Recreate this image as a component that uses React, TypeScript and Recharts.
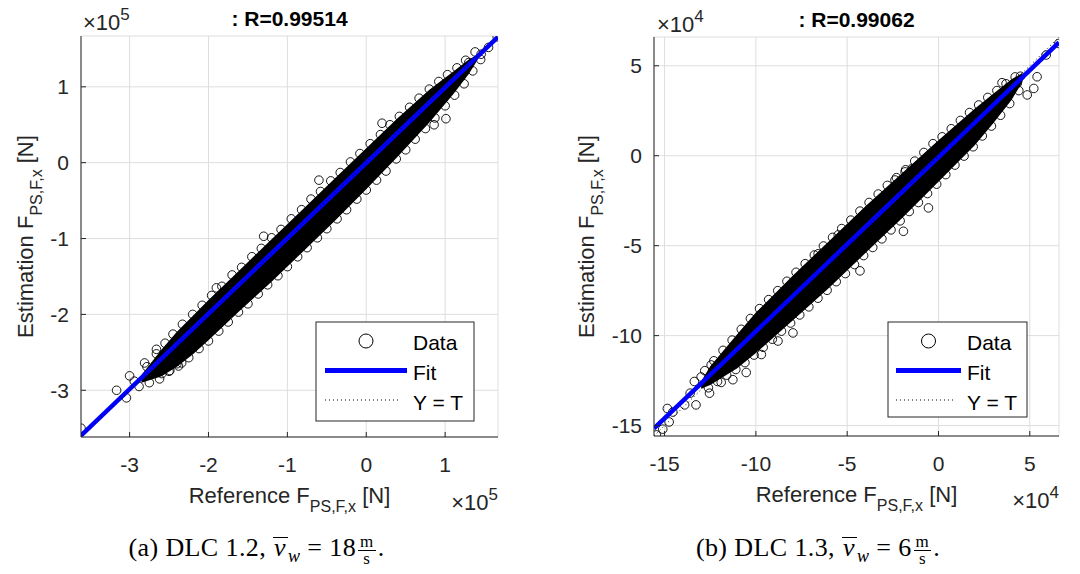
import React from "react";
import { Area, CartesianGrid, ComposedChart, Line, Scatter, XAxis, YAxis } from "recharts";

// ---- panel (a) DLC 1.2, values in 1e5 N ----
const domainA: [number, number] = [-3.616, 1.67];
const ticksA = [-3, -2, -1, 0, 1];
const bandXA = [-2.85, -2.6, -2.4, -2.2, -2.0, -1.6, -1.2, -0.8, -0.4, 0, 0.4, 0.8, 1.1, 1.3, 1.42];
const bandLoA = [-2.9, -2.82, -2.69, -2.53, -2.34, -1.95, -1.57, -1.17, -0.77, -0.35, 0.08, 0.53, 0.9, 1.17, 1.37];
const bandHiA = [-2.8, -2.47, -2.23, -2.02, -1.81, -1.41, -1.01, -0.61, -0.21, 0.19, 0.59, 0.96, 1.2, 1.36, 1.43];
const upperXA = [-2.78, -2.66, -2.55, -2.45, -2.33, -2.2, -2.08, -1.96, -1.83, -1.7, -1.58, -1.45, -1.33, -1.2, -1.08, -0.95, -0.82, -0.7, -0.58, -0.45, -0.33, -0.2, -0.08, 0.05, 0.18, 0.3, 0.42, 0.55, 0.67, 0.8, 0.92, 1.03, 1.15, 1.26, 1.38];
const upperYA = [-2.69, -2.52, -2.38, -2.26, -2.13, -2.0, -1.88, -1.75, -1.63, -1.48, -1.38, -1.24, -1.13, -0.99, -0.88, -0.74, -0.62, -0.48, -0.38, -0.24, -0.13, 0.01, 0.12, 0.25, 0.37, 0.5, 0.61, 0.73, 0.85, 0.97, 1.07, 1.16, 1.25, 1.35, 1.46];
const lowerXA = [-2.75, -2.62, -2.5, -2.38, -2.25, -2.12, -2.0, -1.87, -1.75, -1.62, -1.5, -1.37, -1.25, -1.12, -1.0, -0.87, -0.75, -0.62, -0.5, -0.37, -0.25, -0.12, 0.0, 0.13, 0.25, 0.38, 0.5, 0.62, 0.75, 0.87, 1.0, 1.12, 1.24, 1.35, 1.45];
const lowerYA = [-2.9, -2.85, -2.75, -2.68, -2.57, -2.45, -2.35, -2.22, -2.1, -1.97, -1.86, -1.73, -1.61, -1.49, -1.37, -1.24, -1.12, -0.99, -0.87, -0.74, -0.62, -0.48, -0.36, -0.23, -0.11, 0.05, 0.17, 0.31, 0.45, 0.59, 0.75, 0.89, 1.04, 1.21, 1.36];
const outXA = [-3.616, -3.165, -3.04, -3.0, -2.94, -2.88, -2.81, -2.66, -2.59, -2.49, -2.4, -2.34, -1.9, -1.3, -0.6, 0.2, 1.01, 0.86, 1.3, 1.456, 1.55, 1.66];
const outYA = [-3.5, -3.0, -3.1, -2.81, -2.88, -2.95, -2.64, -2.46, -2.78, -2.74, -2.65, -2.64, -1.65, -0.97, -0.23, 0.52, 0.58, 0.5, 1.32, 1.43, 1.52, 1.66];
const fitXA = [-3.616, 1.67];
const fitYA = [-3.597, 1.658];

// ---- panel (b) DLC 1.3, values in 1e4 N ----
const domainB: [number, number] = [-15.58, 6.6];
const ticksB = [-15, -10, -5, 0, 5];
const bandXB = [-13.0, -12.5, -11.0, -10.0, -8.0, -6.0, -4.0, -2.0, 0, 2, 3, 4, 4.6];
const bandLoB = [-12.95, -12.75, -11.8, -10.97, -9.18, -7.35, -5.41, -3.48, -1.44, 0.6, 1.8, 3.1, 4.1];
const bandHiB = [-12.55, -11.7, -9.9, -8.72, -6.68, -4.75, -2.81, -0.98, 0.86, 2.62, 3.45, 4.25, 4.6];
const upperXB = [-12.8, -12.3, -11.8, -11.3, -10.8, -10.3, -9.8, -9.3, -8.8, -8.3, -7.8, -7.3, -6.8, -6.3, -5.8, -5.3, -4.8, -4.3, -3.8, -3.3, -2.8, -2.3, -1.8, -1.3, -0.8, -0.3, 0.2, 0.7, 1.2, 1.7, 2.2, 2.7, 3.2, 3.7, 4.2];
const upperYB = [-11.95, -11.4, -10.82, -10.25, -9.65, -9.05, -8.5, -8.0, -7.5, -6.98, -6.48, -6.0, -5.52, -5.02, -4.54, -4.05, -3.58, -3.08, -2.6, -2.13, -1.65, -1.22, -0.78, -0.3, 0.18, 0.67, 1.05, 1.5, 1.96, 2.4, 2.82, 3.24, 3.62, 4.0, 4.38];
const lowerXB = [-12.6, -12.1, -11.6, -11.1, -10.6, -10.1, -9.6, -9.1, -8.6, -8.1, -7.6, -7.1, -6.6, -6.1, -5.6, -5.1, -4.6, -4.1, -3.6, -3.1, -2.6, -2.1, -1.6, -1.1, -0.6, -0.1, 0.4, 0.9, 1.4, 1.9, 2.4, 2.9, 3.4, 3.9, 4.4];
const lowerYB = [-12.9, -12.55, -12.2, -11.88, -11.5, -11.08, -10.65, -10.2, -9.75, -9.3, -8.85, -8.4, -7.92, -7.48, -7.0, -6.55, -6.05, -5.55, -5.1, -4.62, -4.12, -3.62, -3.1, -2.6, -2.1, -1.58, -1.05, -0.52, -0.02, 0.5, 1.1, 1.65, 2.25, 2.9, 3.62];
const outXB = [-15.45, -15.1, -14.85, -14.75, -14.55, -13.9, -13.6, -13.37, -13.28, -13.0, -12.45, -12.54, -11.9, -11.26, -10.53, -9.7, -8.79, -7.97, -6.59, -5.49, -4.3, -2.38, -1.83, -1.46, -1.92, -0.55, 3.48, 3.66, 3.94, 4.31, 4.49, 4.86, 5.22, 5.4, 5.9, 6.59];
const outYB = [-15.52, -15.2, -14.05, -14.8, -14.25, -13.85, -13.2, -12.55, -13.85, -12.3, -11.63, -13.2, -12.6, -12.45, -12.05, -11.05, -10.3, -9.85, -5.45, -4.4, -6.4, -1.35, -0.9, -0.72, -4.2, -2.9, 4.06, 3.47, 3.65, 4.02, 4.42, 3.38, 3.74, 4.39, 5.6, 6.24];
const fitXB = [-15.58, 6.6];
const fitYB = [-15.16, 6.3];

const AX = "#262626";
const SANS = "'Liberation Sans', Arial, Helvetica, sans-serif";
const SERIF = "'Liberation Serif', 'Times New Roman', serif";

const zip = (xs: number[], ys: number[]) => xs.map((x, i) => ({ x, y: ys[i] }));

function Ring(props: any) {
  const { cx, cy } = props;
  if (cx == null || cy == null) return <g />;
  return <circle cx={cx} cy={cy} r={4.3} fill="none" stroke="#000" strokeWidth={0.9} />;
}

type PanelProps = {
  left: number;
  top: number;
  right: number;
  bottom: number;
  yWidth: number;
  domain: [number, number];
  ticks: number[];
  bandX: number[];
  bandLo: number[];
  bandHi: number[];
  points: { x: number; y: number }[];
  fit: { x: number; y: number }[];
};

function Panel(p: PanelProps) {
  const band = p.bandX.map((x, i) => ({ x, band: [p.bandLo[i], p.bandHi[i]] }));
  const ident = [
    { x: p.domain[0], y: p.domain[0] },
    { x: p.domain[1], y: p.domain[1] },
  ];
  const tickStyle = { fill: AX, fontSize: 21, fontFamily: SANS };
  return (
    <div style={{ position: "absolute", left: p.left, top: 0, width: 540, height: 480 }}>
      <ComposedChart width={540} height={480} margin={{ top: p.top, right: p.right, bottom: 0, left: 0 }}>
        <CartesianGrid xAxisId="b" yAxisId="l" stroke="#dedede" strokeWidth={1} />
        <XAxis xAxisId="b" type="number" dataKey="x" domain={p.domain} ticks={p.ticks} allowDataOverflow
          height={p.bottom} tickSize={-5} tickMargin={25} stroke={AX} tick={tickStyle} />
        <XAxis xAxisId="t" orientation="top" type="number" dataKey="x" domain={p.domain} ticks={p.ticks}
          allowDataOverflow height={0} tickSize={-5} tick={false} stroke={AX} />
        <YAxis yAxisId="l" type="number" domain={p.domain} ticks={p.ticks} allowDataOverflow
          width={p.yWidth} tickSize={-5} tickMargin={17} stroke={AX} tick={tickStyle} />
        <YAxis yAxisId="r" orientation="right" type="number" domain={p.domain} ticks={p.ticks}
          allowDataOverflow width={0} tickSize={-5} tick={false} stroke={AX} />
        <Area xAxisId="b" yAxisId="l" data={band} dataKey="band" type="linear" stroke="none"
          fill="#000" fillOpacity={1} isAnimationActive={false} zIndex={100} />
        <Scatter xAxisId="b" yAxisId="l" data={p.points} dataKey="y" shape={(s: any) => <Ring {...s} />}
          isAnimationActive={false} zIndex={200} />
        <Line xAxisId="b" yAxisId="l" data={p.fit} dataKey="y" type="linear" stroke="#0000ff"
          strokeWidth={4.5} dot={false} activeDot={false} isAnimationActive={false} zIndex={300} />
        <Line xAxisId="b" yAxisId="l" data={ident} dataKey="y" type="linear" stroke="#000"
          strokeWidth={1} strokeDasharray="1 3" dot={false} activeDot={false} isAnimationActive={false} zIndex={310} />
      </ComposedChart>
    </div>
  );
}

function Legend({ x, y, w, h, iconX0, iconX1, textX }: any) {
  const cx = (iconX0 + iconX1) / 2;
  return (
    <g>
      <rect x={x} y={y} width={w} height={h} fill="#fff" stroke={AX} strokeWidth={1} />
      <circle cx={cx} cy={y + 19} r={7} fill="none" stroke="#000" strokeWidth={1} />
      <text x={textX} y={y + 27.5} fontSize={21} fill="#000">Data</text>
      <line x1={iconX0} x2={iconX1} y1={y + 48.5} y2={y + 48.5} stroke="#0000ff" strokeWidth={5} />
      <text x={textX} y={y + 58} fontSize={21} fill="#000">Fit</text>
      <line x1={iconX0} x2={iconX1 - 6} y1={y + 78} y2={y + 78} stroke="#000" strokeWidth={1} strokeDasharray="1 3" />
      <text x={textX} y={y + 87.5} fontSize={21} fill="#000">Y = T</text>
    </g>
  );
}

function Caption({ center, tag, dlc, speed }: { center: number; tag: string; dlc: string; speed: string }) {
  return (
    <div style={{ position: "absolute", left: center - 220, width: 440, top: 530, textAlign: "center",
      fontFamily: SERIF, fontSize: 26, letterSpacing: 0.4, lineHeight: "36px", color: "#000", whiteSpace: "nowrap" }}>
      ({tag}) DLC {dlc},{" "}
      <span style={{ display: "inline-block", borderTop: "1.3px solid #000", lineHeight: "17px",
        fontStyle: "italic", padding: "1px 2px 0 1px" }}>v</span>
      <sub style={{ fontStyle: "italic", fontSize: 18, lineHeight: 0 }}>w</sub>
      {" "}={" "}{speed}
      <span style={{ display: "inline-flex", flexDirection: "column", verticalAlign: "middle",
        fontSize: 17, lineHeight: "15px", textAlign: "center", margin: "0 2px" }}>
        <span style={{ borderBottom: "1px solid #000", padding: "0 2px 1px" }}>m</span>
        <span>s</span>
      </span>.
    </div>
  );
}

function XLabel({ x, y, text }: { x: number; y: number; text: string }) {
  return (
    <text x={x} y={y} textAnchor="middle" fontSize={22} fill={AX}>
      {text} F<tspan fontSize={16} dy={9}>PS,F,x</tspan><tspan dy={-9}> [N]</tspan>
    </text>
  );
}

function YLabel({ x, y, text }: { x: number; y: number; text: string }) {
  return (
    <text transform={`translate(${x},${y}) rotate(-90)`} textAnchor="middle" fontSize={22} fill={AX}>
      {text} F<tspan fontSize={16} dy={9}>PS,F,x</tspan><tspan dy={-9}> [N]</tspan>
    </text>
  );
}

function Exponent({ x, y, anchor, exp }: { x: number; y: number; anchor: "start" | "end"; exp: string }) {
  return (
    <text x={x} y={y} textAnchor={anchor} fontSize={22} fill={AX}>
      ×10<tspan fontSize={17} dy={-10}>{exp}</tspan>
    </text>
  );
}

export default function App() {
  const ptsA = [...zip(upperXA, upperYA), ...zip(lowerXA, lowerYA), ...zip(outXA, outYA)];
  const ptsB = [...zip(upperXB, upperYB), ...zip(lowerXB, lowerYB), ...zip(outXB, outYB)];
  return (
    <div style={{ position: "absolute", left: 0, top: 0, width: 1080, height: 574, background: "#fff",
      fontFamily: SANS }}>
      <Panel left={0} top={36} right={42} bottom={43} yWidth={81} domain={domainA} ticks={ticksA}
        bandX={bandXA} bandLo={bandLoA} bandHi={bandHiA} points={ptsA} fit={zip(fitXA, fitYA)} />
      <Panel left={540} top={37} right={21} bottom={44} yWidth={114} domain={domainB} ticks={ticksB}
        bandX={bandXB} bandLo={bandLoB} bandHi={bandHiB} points={ptsB} fit={zip(fitXB, fitYB)} />
      <svg width={1080} height={574} style={{ position: "absolute", left: 0, top: 0, pointerEvents: "none" }}
        fontFamily={SANS}>
        {/* panel (a) */}
        <text x={289.5} y={26} textAnchor="middle" fontSize={21} fontWeight="bold" fill="#000">: R=0.99514</text>
        <Exponent x={83} y={29.5} anchor="start" exp="5" />
        <Exponent x={498} y={510} anchor="end" exp="5" />
        <XLabel x={289.5} y={502.7} text="Reference" />
        <YLabel x={33} y={236.5} text="Estimation" />
        <Legend x={316} y={322} w={158} h={99} iconX0={325} iconX1={407} textX={413} />

        {/* panel (b) */}
        <text x={856.5} y={26.5} textAnchor="middle" fontSize={21} fontWeight="bold" fill="#000">: R=0.99062</text>
        <Exponent x={657} y={31.5} anchor="start" exp="4" />
        <Exponent x={1059} y={508} anchor="end" exp="4" />
        <XLabel x={856.5} y={501.7} text="Reference" />
        <YLabel x={594} y={236.5} text="Estimation" />
        <Legend x={888} y={322} w={139} h={95} iconX0={896} iconX1={961} textX={967} />
      </svg>
      <Caption center={256.5} tag="a" dlc="1.2" speed="18" />
      <Caption center={818} tag="b" dlc="1.3" speed="6" />
    </div>
  );
}
